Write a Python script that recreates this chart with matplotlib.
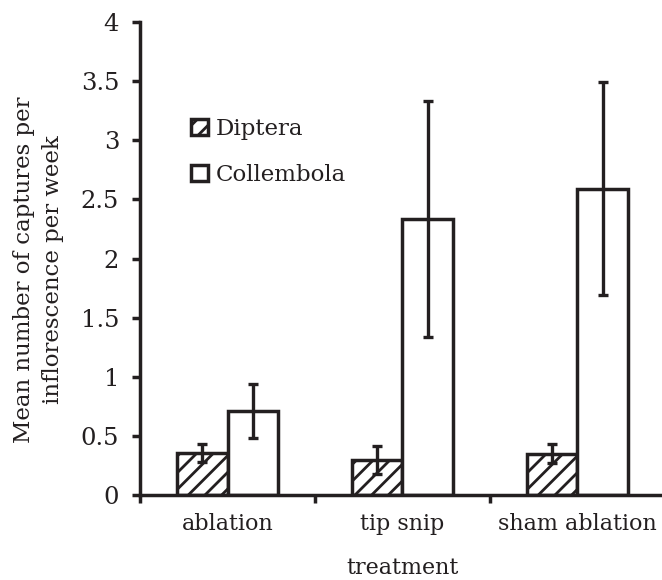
import matplotlib
matplotlib.use("Agg")
import matplotlib.pyplot as plt
import numpy as np

categories = ["ablation", "tip snip", "sham ablation"]
diptera = [0.355, 0.295, 0.35]
diptera_err = [0.08, 0.12, 0.08]
collembola = [0.71, 2.335, 2.59]
collembola_err = [0.225, 1.0, 0.9]
yticks = [0, 0.5, 1, 1.5, 2, 2.5, 3, 3.5, 4]
ytick_labels = ["0", "0.5", "1", "1.5", "2", "2.5", "3", "3.5", "4"]

plt.rcParams['font.family'] = ['DejaVu Serif']
plt.rcParams['hatch.linewidth'] = 2.0
plt.rcParams['hatch.color'] = '#231f20'
INK = '#231f20'

fig = plt.figure(figsize=(6.62, 5.8), dpi=100)
ax = fig.add_axes([0.2115, 0.1466, 0.793, 0.8154])

x = np.arange(len(categories))
w = 0.29
lw = 2.5
ax.bar(x - w/2, diptera, w, color='white', edgecolor=INK, hatch='//',
       linewidth=lw, label='Diptera', zorder=2)
ax.bar(x + w/2, collembola, w, color='white', edgecolor=INK,
       linewidth=lw, label='Collembola', zorder=2)
ax.errorbar(x - w/2, diptera, yerr=diptera_err, fmt='none', ecolor=INK,
            elinewidth=2.4, capsize=3.5, capthick=2.4, zorder=3)
ax.errorbar(x + w/2, collembola, yerr=collembola_err, fmt='none', ecolor=INK,
            elinewidth=2.4, capsize=3.5, capthick=2.4, zorder=3)

ax.set_xlim(-0.5, 2.5)
ax.set_ylim(0, 4)
ax.set_yticks(yticks)
ax.set_yticklabels(ytick_labels, fontsize=17.5, color=INK)
ax.set_xticks(x)
ax.set_xticklabels(categories, fontsize=16, color=INK)
ax.set_xticks([-0.5, 0.5, 1.5, 2.5], minor=True)
ax.tick_params(axis='x', which='major', length=0, pad=13)
ax.tick_params(axis='x', which='minor', length=6, width=2.5, direction='out', color=INK)
ax.tick_params(axis='y', length=6, width=2.5, direction='out', color=INK, pad=9)

for s in ['top', 'right']:
    ax.spines[s].set_visible(False)
for s in ['left', 'bottom']:
    ax.spines[s].set_linewidth(2.5)
    ax.spines[s].set_color(INK)

ax.set_xlabel("treatment", fontsize=16, labelpad=16, color=INK)
fig.text(0.058, 0.535, "Mean number of captures per\ninflorescence per week", fontsize=16.5,
         rotation=90, ha='center', va='center', linespacing=1.4, color=INK,
         multialignment='center')

leg = ax.legend(loc='upper left', bbox_to_anchor=(0.098, 0.797), frameon=False,
                fontsize=16.5, handlelength=0.7, handleheight=0.7, handletextpad=0.35,
                labelspacing=1.05, borderpad=0, borderaxespad=0)
for t in leg.get_texts():
    t.set_color(INK)

fig.savefig("out.png", dpi=100)
